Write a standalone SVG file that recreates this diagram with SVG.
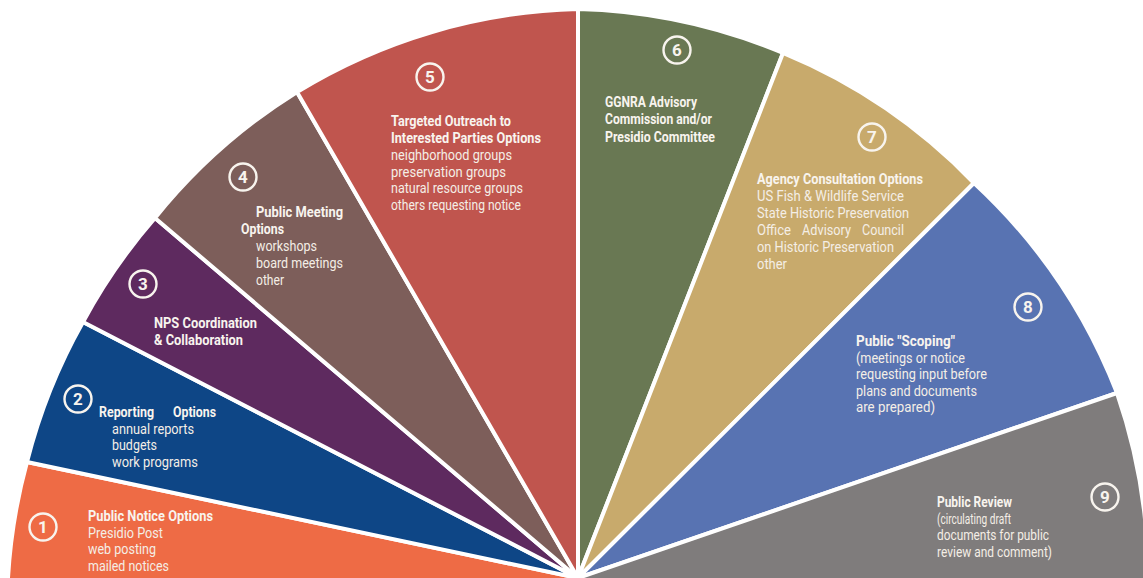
<svg xmlns="http://www.w3.org/2000/svg" width="1143" height="578" viewBox="0 0 1143 578">
<style>
.w{stroke:#fff;stroke-width:4;stroke-linejoin:round}
.h{font-family:Roboto,"DejaVu Sans Condensed",sans-serif;font-weight:bold;font-size:14px;fill:#f8f4ee}
.t{font-family:Roboto,"DejaVu Sans",sans-serif;font-size:14px;fill:#f4eee6}
.c{fill:none;stroke:#f8f4ee;stroke-width:2.4}
.n{font-family:Roboto,"DejaVu Sans",sans-serif;font-weight:bold;font-size:17px;fill:#f8f4ee;text-anchor:middle}
</style>
<rect width="1143" height="578" fill="#fff"/>
<g id="w1">
<path class="w" fill="#EE6B45" d="M578,578 L578,592 L6,592 L8,578 A565,565 0 0,1 27,462 Z"/>
<circle class="c" cx="43" cy="527" r="13.5"/><text class="n" x="43" y="533">1</text>
<text class="h" x="88" y="521" textLength="125" lengthAdjust="spacingAndGlyphs">Public Notice Options</text>
<text class="t" x="88" y="537.5" textLength="75" lengthAdjust="spacingAndGlyphs">Presidio Post</text>
<text class="t" x="88" y="554" textLength="68" lengthAdjust="spacingAndGlyphs">web posting</text>
<text class="t" x="88" y="570.5" textLength="81" lengthAdjust="spacingAndGlyphs">mailed notices</text>
</g>
<g id="w2">
<path class="w" fill="#0E4686" d="M578,578 L27,462 A565,565 0 0,1 83,322 Z"/>
<circle class="c" cx="78" cy="399" r="13.5"/><text class="n" x="78" y="405">2</text>
<text class="h" y="417"><tspan x="99" textLength="55" lengthAdjust="spacingAndGlyphs">Reporting</tspan> <tspan x="173" textLength="43" lengthAdjust="spacingAndGlyphs">Options</tspan></text>
<text class="t" x="112" y="433.5" textLength="82" lengthAdjust="spacingAndGlyphs">annual reports</text>
<text class="t" x="112" y="450" textLength="45" lengthAdjust="spacingAndGlyphs">budgets</text>
<text class="t" x="112" y="467" textLength="86" lengthAdjust="spacingAndGlyphs">work programs</text>
</g>
<g id="w3">
<path class="w" fill="#5E2A5F" d="M578,578 L83,322 A565,565 0 0,1 155,218 Z"/>
<circle class="c" cx="143" cy="284" r="13.5"/><text class="n" x="143" y="290">3</text>
<text class="h" x="154" y="328" textLength="103" lengthAdjust="spacingAndGlyphs">NPS Coordination</text>
<text class="h" x="154" y="345" textLength="89" lengthAdjust="spacingAndGlyphs">&amp; Collaboration</text>
</g>
<g id="w4">
<path class="w" fill="#7D5E5A" d="M578,578 L155,218 A565,565 0 0,1 297,92 Z"/>
<circle class="c" cx="243" cy="177" r="13.5"/><text class="n" x="243" y="183">4</text>
<text class="h" x="256" y="216.5" textLength="87" lengthAdjust="spacingAndGlyphs">Public Meeting</text>
<text class="h" x="241" y="233.5" textLength="43" lengthAdjust="spacingAndGlyphs">Options</text>
<text class="t" x="256" y="251" textLength="61" lengthAdjust="spacingAndGlyphs">workshops</text>
<text class="t" x="256" y="268" textLength="87" lengthAdjust="spacingAndGlyphs">board meetings</text>
<text class="t" x="256" y="285" textLength="28" lengthAdjust="spacingAndGlyphs">other</text>
</g>
<g id="w5">
<path class="w" fill="#C0554E" d="M578,578 L297,92 A565,565 0 0,1 578,9 Z"/>
<circle class="c" cx="430" cy="77" r="13.5"/><text class="n" x="430" y="83">5</text>
<text class="h" x="391" y="125.5" textLength="120" lengthAdjust="spacingAndGlyphs">Targeted Outreach to</text>
<text class="h" x="391" y="142.5" textLength="150" lengthAdjust="spacingAndGlyphs">Interested Parties Options</text>
<text class="t" x="391" y="160" textLength="121" lengthAdjust="spacingAndGlyphs">neighborhood groups</text>
<text class="t" x="391" y="176.5" textLength="115" lengthAdjust="spacingAndGlyphs">preservation groups</text>
<text class="t" x="391" y="193" textLength="132" lengthAdjust="spacingAndGlyphs">natural resource groups</text>
<text class="t" x="391" y="209.5" textLength="130" lengthAdjust="spacingAndGlyphs">others requesting notice</text>
</g>
<g id="w6">
<path class="w" fill="#697853" d="M578,578 L578,9 A565,565 0 0,1 783,53 Z"/>
<circle class="c" cx="677" cy="50" r="13.5"/><text class="n" x="677" y="56">6</text>
<text class="h" x="605" y="107" textLength="92" lengthAdjust="spacingAndGlyphs">GGNRA Advisory</text>
<text class="h" x="605" y="124" textLength="107" lengthAdjust="spacingAndGlyphs">Commission and/or</text>
<text class="h" x="605" y="141.5" textLength="110" lengthAdjust="spacingAndGlyphs">Presidio Committee</text>
</g>
<g id="w7">
<path class="w" fill="#C8AA6C" d="M578,578 L783,53 A565,565 0 0,1 974,183 Z"/>
<circle class="c" cx="872" cy="137" r="13.5"/><text class="n" x="872" y="143">7</text>
<text class="h" x="757" y="184" textLength="166" lengthAdjust="spacingAndGlyphs">Agency Consultation Options</text>
<text class="t" x="757" y="201" textLength="147" lengthAdjust="spacingAndGlyphs">US Fish &amp; Wildlife Service</text>
<text class="t" x="757" y="218" textLength="152" lengthAdjust="spacingAndGlyphs">State Historic Preservation</text>
<text class="t" y="235"><tspan x="757" textLength="34" lengthAdjust="spacingAndGlyphs">Office</tspan> <tspan x="802" textLength="49" lengthAdjust="spacingAndGlyphs">Advisory</tspan> <tspan x="862" textLength="42" lengthAdjust="spacingAndGlyphs">Council</tspan></text>
<text class="t" x="757" y="252" textLength="137" lengthAdjust="spacingAndGlyphs">on Historic Preservation</text>
<text class="t" x="757" y="269" textLength="30" lengthAdjust="spacingAndGlyphs">other</text>
</g>
<g id="w8">
<path class="w" fill="#5873B2" d="M578,578 L974,183 A565,565 0 0,1 1117,393 Z"/>
<circle class="c" cx="1028" cy="307" r="13.5"/><text class="n" x="1028" y="313">8</text>
<text class="h" x="856" y="346" textLength="99" lengthAdjust="spacingAndGlyphs">Public "Scoping"</text>
<text class="t" x="856" y="362.5" textLength="109" lengthAdjust="spacingAndGlyphs">(meetings or notice</text>
<text class="t" x="856" y="379" textLength="131" lengthAdjust="spacingAndGlyphs">requesting input before</text>
<text class="t" x="856" y="395.5" textLength="121" lengthAdjust="spacingAndGlyphs">plans and documents</text>
<text class="t" x="856" y="412" textLength="79" lengthAdjust="spacingAndGlyphs">are prepared)</text>
</g>
<g id="w9">
<path class="w" fill="#7F7C7C" d="M578,578 L1117,393 A565,565 0 0,1 1148,578 L1148,592 L578,592 Z"/>
<circle class="c" cx="1105" cy="497" r="13.5"/><text class="n" x="1105" y="503">9</text>
<text class="h" x="937" y="507" textLength="75" lengthAdjust="spacingAndGlyphs">Public Review</text>
<text class="t" x="937" y="523.5" textLength="74" lengthAdjust="spacingAndGlyphs">(circulating draft</text>
<text class="t" x="937" y="540" textLength="112" lengthAdjust="spacingAndGlyphs">documents for public</text>
<text class="t" x="937" y="557" textLength="115" lengthAdjust="spacingAndGlyphs">review and comment)</text>
</g>
</svg>
